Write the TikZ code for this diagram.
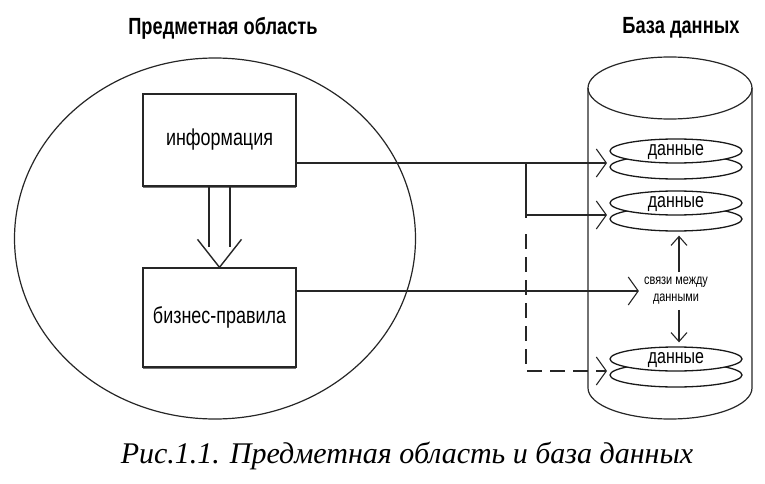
\documentclass[tikz,border=0pt]{standalone}
\usepackage{fontspec}
\setmainfont{Liberation Serif}
\newfontfamily\narrow[FakeStretch=0.78]{Liberation Sans}
\usetikzlibrary{arrows.meta,calc,shadows,shapes.geometric}
\begin{document}
\begin{tikzpicture}[x=1pt,y=-1pt,
  line/.style={line width=1.4pt, draw=black!85},
  barb/.style={-{Straight Barb[length=10pt,width=28pt,line width=1.1pt]}},
  smallbarb/.style={-{Straight Barb[length=9pt,width=16pt,line width=1.1pt]}},
  box/.style={draw=black!85, line width=1.3pt, fill=white, minimum width=153pt,
    font=\narrow\fontsize{23}{26}\selectfont,
    drop shadow={shadow xshift=0pt, shadow yshift=-2pt, fill=black!55, opacity=1}},
  disk/.style={ellipse, draw=black!90, line width=1.3pt, fill=white, inner sep=0pt,
    text height=10pt, text depth=2pt,
    minimum width=132pt, minimum height=24pt, font=\narrow\fontsize{20.5}{22}\selectfont},
  title/.style={font=\narrow\bfseries\fontsize{23.4}{26}\selectfont},
  dashline/.style={line, dash pattern=on 15pt off 8pt}
]
\useasboundingbox (0,0) rectangle (765,484);

% titles
\node[title] (t1) at (223,28) {Предметная область};
\node[title] (t2) at (681,28) {База данных};

% subject area ellipse
\draw[line, line width=1.2pt] (215,238.5) ellipse [x radius=200.5, y radius=180.5];

% database cylinder
\draw[line, line width=1.2pt] (588,88) -- (588,388) arc[start angle=180, end angle=0, x radius=82, y radius=31] -- (752,88);
\draw[line, line width=1.2pt] (670,88) ellipse [x radius=82, y radius=31];

% boxes
\node[box, minimum height=92pt] (info) at (219.5,140) {информация};
\node[box, minimum height=99pt] (biz) at (219.5,317.5) {бизнес-правила};

% disks
\node[disk] (d1b) at (676,167) {};
\node[disk] (d1) at (676,151) {данные};
\node[disk] (d2b) at (676,219) {};
\node[disk] (d2) at (676,203) {данные};
\node[disk] (d3b) at (676,375) {};
\node[disk] (d3) at (676,359) {данные};

\coordinate (d1w) at ($(d1.center)+(-69,12)$);
\coordinate (d2w) at ($(d2.center)+(-69,12)$);
\coordinate (d3w) at ($(d3.center)+(-69,12)$);

% relation text
\node[font=\narrow\fontsize{14}{17}\selectfont, align=center, inner sep=5pt] (rel) at (676,291) {связи между\\данными};

% hollow arrow between boxes
\draw[line] ($(info.south)+(-10.5,0)$) -- ++(0,60);
\draw[line] ($(info.south)+(10.5,0)$) -- ++(0,60);
\draw[line] ($(biz.north)+(-22,-28)$) -- (biz.north) -- ($(biz.north)+(22,-28)$);

% connectors to database
\coordinate (j1) at (526,163);
\coordinate (j2) at (j1 |- d2w);
\coordinate (j3) at (j1 |- d3w);
\draw[line, barb] (info.east |- d1w) -- (d1w);
\draw[line] (j1) -- ($(j2)+(0,3)$);
\draw[line, barb] (j2) -- (d2w);
\draw[dashline, barb] ($(j2)+(0,19)$) -- (j3) -- (d3w);
\draw[line, barb] (biz.east |- rel.west) -- (rel.west);

% relation arrows
\draw[line, smallbarb] ($(rel.north)+(3,0)$) -- ($(rel.north |- d2b.south)+(3,4)$);
\draw[line, smallbarb] ($(rel.south)+(3,0)$) -- ($(rel.south |- d3.north)+(3,-4)$);

% caption
\node[font=\itshape\fontsize{30}{34}\selectfont] (cap) at (407,456) {Рис.1.1. Предметная область и база данных};
\end{tikzpicture}
\end{document}
